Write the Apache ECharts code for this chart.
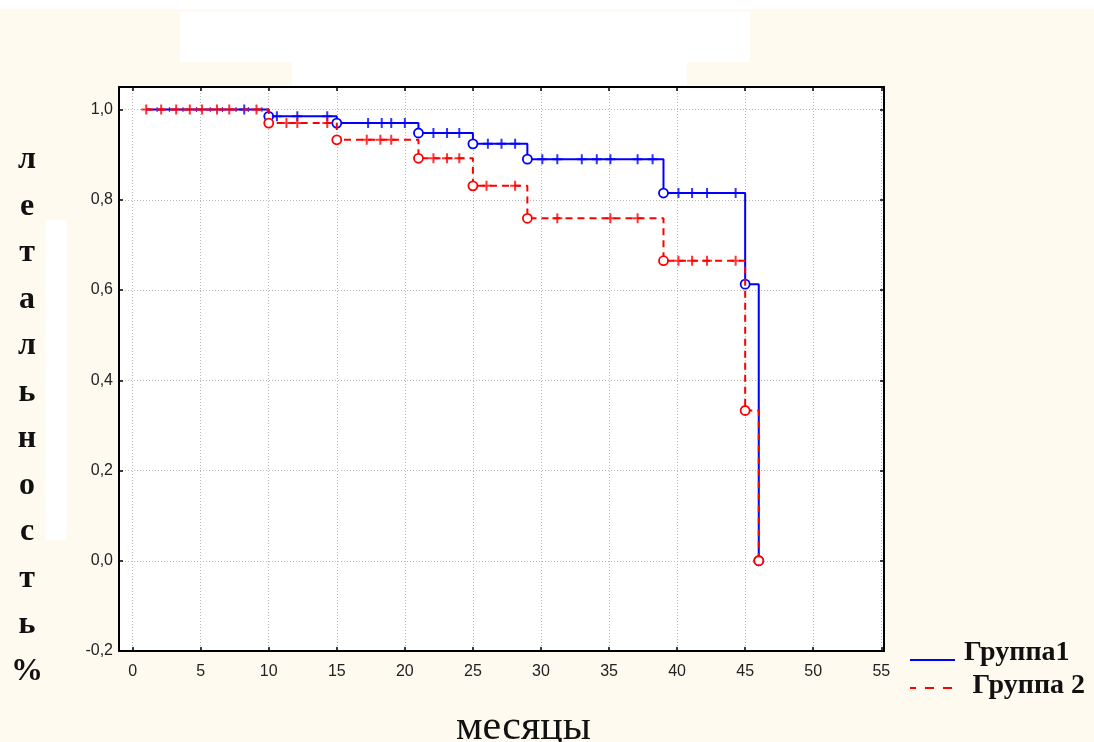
<!DOCTYPE html>
<html>
<head>
<meta charset="utf-8">
<script src="https://cdn.jsdelivr.net/npm/echarts@6/dist/echarts.min.js"></script>
<style>html,body{margin:0;padding:0;background:#fffaf0;}#c{width:1094px;height:742px;}</style>
</head>
<body>
<div id="c"></div>
<script>
// Kaplan-Meier style step data
const seriesNames = ['Группа1', 'Группа 2'];
const g1Time = [1, 10, 15, 21, 25, 29, 39, 45, 46];
const g1Surv = [1.0, 0.985, 0.970, 0.948, 0.924, 0.890, 0.815, 0.613, 0.0];
const g2Time = [1, 10, 15, 21, 25, 29, 39, 45, 46];
const g2Surv = [1.0, 0.970, 0.933, 0.892, 0.831, 0.759, 0.665, 0.333, 0.0];
// censored observations (months)
const g1Censor = [1.8, 2.7, 3.7, 4.7, 5.7, 6.6, 7.6, 8.2, 8.5, 9.5,
  10.6, 12.1, 14.3, 17.3, 18.3, 19.0, 20.0, 22.1, 23.1, 24.0,
  26.1, 27.1, 28.1, 30.1, 31.2, 33.0, 34.1, 35.1, 37.1, 38.2,
  40.1, 41.1, 42.2, 44.3];
const g2Censor = [1.0, 2.1, 3.2, 4.2, 5.1, 6.2, 7.1, 9.1,
  11.3, 12.1, 14.3, 17.2, 18.2, 19.0, 22.1, 23.1, 24.0,
  26.0, 28.1, 31.2, 35.1, 37.1, 40.1, 41.1, 42.2, 44.3];
const xTicks = [0, 5, 10, 15, 20, 25, 30, 35, 40, 45, 50, 55];
const yTicks = [-0.2, 0, 0.2, 0.4, 0.6, 0.8, 1.0];
const yName = ['л','е','т','а','л','ь','н','о','с','т','ь','%'];
const xName = 'месяцы';

function steps(t, s) { return t.map((v, i) => [v, s[i]]); }
function levelAt(t, s, x) { let v = s[0]; for (let i = 0; i < t.length; i++) { if (t[i] <= x) v = s[i]; } return v; }
function censorPts(t, s, c) { return c.map(x => [x, levelAt(t, s, x)]); }

const plus = 'path://M4,0h2v4h4v2h-4v4h-2v-4h-4v-2h4z';
const BLUE = '#0000ff', RED = '#ff0000';

const chart = echarts.init(document.getElementById('c'), null, {renderer: 'canvas'});
const axisCommon = {
  axisLine: {show: true, onZero: false, lineStyle: {color: '#000', width: 2}},
  axisTick: {show: true, inside: true, length: 4, lineStyle: {color: '#000', width: 1.5}},
};
const legendText = {fontFamily: 'Liberation Serif', fontWeight: 'bold', fontSize: 28, color: '#111'};
chart.setOption({
  backgroundColor: '#fffaf0',
  animation: false,
  graphic: [
    {type: 'rect', shape: {x: 0, y: 0, width: 1094, height: 9}, style: {fill: '#ffffff'}, z: -10},
    {type: 'rect', shape: {x: 180, y: 12, width: 570, height: 50}, style: {fill: '#ffffff'}, z: -10},
    {type: 'rect', shape: {x: 292, y: 55, width: 395, height: 30}, style: {fill: '#ffffff'}, z: -10},
    {type: 'rect', shape: {x: 45, y: 220, width: 22, height: 320}, style: {fill: '#ffffff'}, z: -10}
  ],
  grid: {left: 119, right: 210, top: 87, bottom: 91, show: true, backgroundColor: '#ffffff', borderWidth: 0,
    containLabel: false, outerBoundsMode: 'none'},
  legend: [
    {data: [seriesNames[0]], left: 905, top: 634, orient: 'vertical', itemWidth: 45, itemHeight: 16,
     icon: 'path://M0,0h0.01v0.01h-0.01zM0,14h45v2h-45z',
     textStyle: Object.assign({padding: [0, 0, 0, 4]}, legendText)},
    {data: [seriesNames[1]], left: 905, top: 667, orient: 'vertical', itemWidth: 45, itemHeight: 6,
     icon: 'path://M0,0h0.01v0.01h-0.01zM0,4h6v2h-6zM15,4h9v2h-9zM33,4h9v2h-9z',
     textStyle: Object.assign({padding: [0, 0, 0, 14]}, legendText)}
  ],
  xAxis: [
    Object.assign({}, axisCommon, {
      type: 'value', position: 'bottom', min: -1, max: 55.2, splitNumber: 11, minInterval: 5, maxInterval: 5,
      name: xName, nameLocation: 'middle', nameGap: 77,
      nameTextStyle: {fontFamily: 'Liberation Serif', fontSize: 42, color: '#111', verticalAlign: 'middle',
        padding: [0, 0, 0, 44]},
      axisLabel: {margin: 13, fontFamily: 'Liberation Sans', fontSize: 16, color: '#222',
        formatter: v => xTicks.indexOf(Math.round(v * 100) / 100) >= 0 ? String(v) : ''},
      splitLine: {show: true, lineStyle: {color: '#b8b8b8', type: [1, 2], width: 1}}
    }),
    Object.assign({}, axisCommon, {
      type: 'value', position: 'top', min: -1, max: 55.2, splitNumber: 11, minInterval: 5, maxInterval: 5,
      axisLabel: {show: false}, splitLine: {show: false}
    })
  ],
  yAxis: [
    Object.assign({}, axisCommon, {
      type: 'value', position: 'left', min: -0.2, max: 1.05, interval: 0.2,
      name: ['\u00a0', '\u00a0'].concat(yName).join('\n'), nameLocation: 'middle', nameGap: 92, nameRotate: 0,
      nameTextStyle: {fontFamily: 'Liberation Serif', fontWeight: 'bold', fontSize: 32, color: '#111',
        lineHeight: 46.5, align: 'center', verticalAlign: 'middle'},
      axisLabel: {margin: 6, fontFamily: 'Liberation Sans', fontSize: 16, color: '#222', showMaxLabel: false,
        formatter: v => yTicks.some(t => Math.abs(t - v) < 1e-6) ? v.toFixed(1).replace('.', ',') : ''},
      splitLine: {show: true, lineStyle: {color: '#b8b8b8', type: [1, 2], width: 1}}
    }),
    Object.assign({}, axisCommon, {
      type: 'value', position: 'right', min: -0.2, max: 1.05, interval: 0.2,
      axisLabel: {show: false}, splitLine: {show: false}
    })
  ],
  series: [
    {name: seriesNames[0], type: 'line', step: 'end', data: steps(g1Time, g1Surv), symbol: 'none',
     lineStyle: {color: BLUE, width: 2}, itemStyle: {color: BLUE}, z: 3},
    {name: 'g1ev', type: 'scatter', data: steps(g1Time, g1Surv).slice(1), symbol: 'circle', symbolSize: 9,
     itemStyle: {color: '#ffffff', borderColor: BLUE, borderWidth: 1.8, opacity: 1}, z: 4},
    {name: 'g1cens', type: 'scatter', data: censorPts(g1Time, g1Surv, g1Censor), symbol: plus,
     symbolSize: (v) => v[1] === 1 && v[0] !== 8.2 ? 5 : 10, itemStyle: {color: BLUE}, z: 4},
    {name: seriesNames[1], type: 'line', step: 'end', data: steps(g2Time, g2Surv), symbol: 'none',
     lineStyle: {color: RED, width: 2, type: [7, 5]}, itemStyle: {color: RED}, z: 5},
    {name: 'g2ev', type: 'scatter', data: steps(g2Time, g2Surv).slice(1), symbol: 'circle', symbolSize: 9,
     itemStyle: {color: '#ffffff', borderColor: RED, borderWidth: 1.8, opacity: 1}, z: 6},
    {name: 'g2cens', type: 'scatter', data: censorPts(g2Time, g2Surv, g2Censor), symbol: plus, symbolSize: 10,
     itemStyle: {color: RED}, z: 6}
  ]
});
</script>
</body>
</html>
